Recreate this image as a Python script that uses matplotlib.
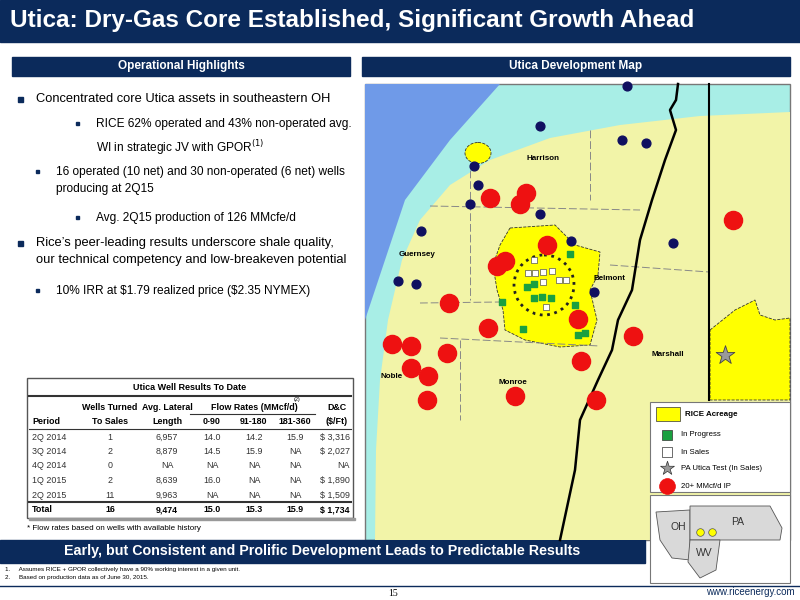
import matplotlib.pyplot as plt
from matplotlib.patches import Rectangle, Polygon, Ellipse, Circle
import numpy as np

NAVY = '#0b2a5b'
FONT = 'Liberation Sans'

# table data
periods = ['2Q 2014', '3Q 2014', '4Q 2014', '1Q 2015', '2Q 2015']
wells = ['1', '2', '0', '2', '11']
lateral = ['6,957', '8,879', 'NA', '8,639', '9,963']
flow_90 = ['14.0', '14.5', 'NA', '16.0', 'NA']
flow_180 = ['14.2', '15.9', 'NA', 'NA', 'NA']
flow_360 = ['15.9', 'NA', 'NA', 'NA', 'NA']
dc_cost = ['\\$ 3,316', '\\$ 2,027', 'NA', '\\$ 1,890', '\\$ 1,509']
totals = ['Total', '16', '9,474', '15.0', '15.3', '15.9', '\\$ 1,734']

# map wells (map pixel coords)
red_x = [490, 526, 520, 547, 497, 505, 449, 488, 578, 633, 581, 392, 411, 447, 411, 733, 428, 427, 515, 596]
red_y = [198, 193, 204, 245, 266, 261, 303, 328, 319, 336, 361, 344, 346, 353, 368, 220, 376, 400, 396, 400]
navy_x = [540, 622, 646, 474, 478, 470, 540, 421, 571, 673, 398, 416, 594, 627]
navy_y = [126, 140, 143, 166, 185, 204, 214, 231, 241, 243, 281, 284, 292, 86]
green_x = [570, 527, 534, 534, 542, 551, 502, 575, 523, 578, 585]
green_y = [254, 287, 284, 298, 297, 298, 302, 305, 329, 335, 333]
white_x = [534, 528, 535, 543, 552, 543, 559, 566, 546]
white_y = [260, 273, 273, 272, 271, 282, 280, 280, 307]
counties = [('Harrison', 543, 158), ('Guernsey', 417, 255), ('Belmont', 610, 278),
            ('Marshall', 668, 354), ('Noble', 392, 377), ('Monroe', 513, 382)]

fig = plt.figure(figsize=(8, 6), dpi=100)
ax = fig.add_axes([0, 0, 1, 1])
ax.set_xlim(0, 800)
ax.set_ylim(600, 0)
ax.axis('off')

# header
ax.add_patch(Rectangle((0, 0), 800, 42, color=NAVY))
ax.text(10, 21, 'Utica: Dry-Gas Core Established, Significant Growth Ahead',
        color='white', fontsize=17.5, fontweight='bold', va='center', family=FONT)
ax.add_patch(Rectangle((12, 57), 338, 19, color=NAVY))
ax.text(181, 66.5, 'Operational Highlights', color='white', fontsize=8.5, fontweight='bold',
        ha='center', va='center', family=FONT)
ax.add_patch(Rectangle((362, 57), 428, 19, color=NAVY))
ax.text(576, 66.5, 'Utica Development Map', color='white', fontsize=8.5, fontweight='bold',
        ha='center', va='center', family=FONT)

# bullets
ftxt = dict(family=FONT, color='black', va='top')
bullets = [
    (18, 36, 93, 'Concentrated core Utica assets in southeastern OH', 9.3),
    (76, 96, 118, 'RICE 62% operated and 43% non-operated avg.\nWI in strategic JV with GPOR$^{(1)}$', 8.6),
    (36, 56, 166, '16 operated (10 net) and 30 non-operated (6 net) wells\nproducing at 2Q15', 8.6),
    (76, 96, 212, 'Avg. 2Q15 production of 126 MMcfe/d', 8.6),
    (18, 36, 237, 'Rice\u2019s peer-leading results underscore shale quality,\nour technical competency and low-breakeven potential', 9.3),
    (36, 56, 285, '10% IRR at \\$1.79 realized price (\\$2.35 NYMEX)', 8.6),
]
for bx, tx, ty, t, fs in bullets:
    big = fs > 9
    ax.add_patch(Rectangle((bx, ty + 4), 5 if big else 3, 5 if big else 3, color=NAVY))
    ax.text(tx, ty, t, fontsize=fs, linespacing=1.6, **ftxt)

# table
ax.add_patch(Rectangle((27, 378), 326, 140, facecolor='white', edgecolor='#555555', lw=1))
ax.add_patch(Rectangle((29, 518), 326, 2, color='#999999'))
ax.text(190, 387, 'Utica Well Results To Date', fontsize=6.5, fontweight='bold', ha='center', va='center',
        family=FONT)
ax.plot([29, 351], [396, 396], color='#333333', lw=1.5)
cols = [(32, 'left'), (110, 'center'), (167, 'center'), (212, 'center'), (254, 'center'), (295, 'center'), (350, 'right')]
hdr1 = ['', 'Wells Turned', 'Avg. Lateral', '', 'Flow Rates (MMcf/d)', '', 'D&C']
hdr2 = ['Period', 'To Sales', 'Length', '0-90', '91-180', '181-360', '(\\$/Ft)']
tk = dict(family=FONT, fontsize=6.4, va='center')
for (cx, ha), h1, h2 in zip(cols, hdr1, hdr2):
    x = cx if ha != 'right' else 337
    h = ha if ha != 'right' else 'center'
    if h1:
        ax.text(x, 407, h1, ha=h, fontweight='bold', **tk)
    ax.text(x, 421, h2, ha=h, fontweight='bold', **tk)
ax.text(294, 400, '(2)', fontsize=4, family=FONT, va='center')
ax.plot([190, 315], [414, 414], color='#333333', lw=0.8)
ax.plot([29, 351], [429, 429], color='#333333', lw=0.8)
rows = list(zip(periods, wells, lateral, flow_90, flow_180, flow_360, dc_cost))
for i, r in enumerate(rows):
    y = 437 + i * 14.5
    for (cx, ha), v in zip(cols, r):
        ax.text(cx, y, v, ha=ha, color='#333333', **tk)
ax.plot([29, 351], [502, 502], color='#333333', lw=1.5)
for (cx, ha), v in zip(cols, totals):
    ax.text(cx, 510, v, ha=ha, fontweight='bold', **tk)
ax.text(27, 528, '* Flow rates based on wells with available history', fontsize=5.8,
        family=FONT, va='center')

# map background
mx0, mx1, my0, my1 = 365, 790, 84, 540
ax.add_patch(Rectangle((mx0, my0), mx1 - mx0, my1 - my0, facecolor='#a8eee6', edgecolor='#777777', lw=1, zorder=1))
blue = Polygon([(mx0, my0), (500, my0), (450, 140), (405, 200), (375, 290), (mx0, 320)],
               facecolor='#6f9ae8', edgecolor='none', zorder=2)
ax.add_patch(blue)
pale = Polygon([(mx1, 112), (700, 116), (620, 125), (550, 138), (490, 160), (450, 185),
                (420, 220), (402, 260), (388, 320), (380, 380), (376, 450), (375, my1), (mx1, my1)],
               facecolor='#f2f4a8', edgecolor='none', zorder=2)
ax.add_patch(pale)
core = Polygon([(510, 228), (555, 225), (575, 245), (600, 252), (598, 275), (590, 290), (597, 320),
                (590, 345), (560, 347), (525, 340), (505, 330), (503, 310), (497, 290), (493, 265), (500, 245)],
               facecolor='#ffff00', edgecolor='#333333', ls='--', lw=0.6, zorder=3)
ax.add_patch(core)
ax.add_patch(Ellipse((478, 153), 26, 21, facecolor='#ffff00', edgecolor='#333333', ls='--', lw=0.6, zorder=3))
ax.add_patch(Polygon([(710, 330), (735, 310), (755, 300), (760, 315), (775, 320), (790, 318), (790, 400), (710, 400)],
                     facecolor='#ffff00', edgecolor='#333333', ls='--', lw=0.6, zorder=3))
# river & state line
ry = np.array([84, 100, 110, 130, 160, 200, 240, 290, 320, 350, 380, 420, 470, 540])
rx = np.array([678, 676, 670, 676, 665, 652, 640, 632, 618, 612, 598, 580, 575, 560])
ax.plot(rx, ry, color='black', lw=1.8, zorder=4)
ax.plot([709, 709], [my0, 400], color='black', lw=1.5, zorder=4)
# county lines
for seg in [([430, 640], [206, 210]), ([420, 500], [303, 302]), ([440, 600], [338, 346]), ([470, 470], [170, 300]),
            ([590, 590], [130, 200]), ([610, 709], [265, 272]), ([460, 460], [340, 420])]:
    ax.plot(*seg, color='#888888', lw=0.7, ls=(0, (8, 3)), zorder=3)

ax.add_patch(Circle((544, 285), 30, fill=False, ls=':', lw=2, edgecolor='#222222', zorder=5))
ax.scatter(red_x, red_y, s=170, color='#ee1111', zorder=6)
ax.scatter(navy_x, navy_y, s=40, color='#101060', zorder=6)
ax.scatter(green_x, green_y, s=22, marker='s', color='#1aa040', zorder=7)
ax.scatter(white_x, white_y, s=22, marker='s', facecolor='white', edgecolor='#555555', lw=0.5, zorder=7)
ax.scatter([725], [355], s=200, marker='*', color='#999999', edgecolor='#444444', lw=0.6, zorder=7)
for name, x, y in counties:
    ax.text(x, y, name, fontsize=5.8, fontweight='bold', ha='center', va='center',
            family=FONT, zorder=8)

# legend
ax.add_patch(Rectangle((650, 402), 140, 90, facecolor='white', edgecolor='#777777', lw=0.8, zorder=8))
ax.add_patch(Rectangle((656, 407), 24, 14, facecolor='#ffff00', edgecolor='#333333', lw=0.5, zorder=9))
ax.text(685, 414, 'RICE Acreage', fontsize=5.8, fontweight='bold', va='center', family=FONT, zorder=9)
leg = [('s', '#1aa040', 'In Progress', 435), ('s', 'white', 'In Sales', 452),
       ('*', '#999999', 'PA Utica Test (In Sales)', 468), ('o', '#ee1111', '20+ MMcf/d IP', 486)]
for m, c, t, y in leg:
    ax.scatter([667], [y], s=45 if m == 's' else (110 if m == '*' else 130), marker=m, facecolor=c,
               edgecolor='#333333' if m != 'o' else c, lw=0.5, zorder=9)
    ax.text(681, y, t, fontsize=5.6, va='center', family=FONT, zorder=9)

# inset
ax.add_patch(Rectangle((650, 495), 140, 88, facecolor='white', edgecolor='#777777', lw=0.8, zorder=8))
ax.add_patch(Polygon([(656, 512), (690, 510), (690, 560), (672, 558), (660, 540)],
                     facecolor='#d9d9d9', edgecolor='#555555', lw=0.6, zorder=9))
ax.add_patch(Polygon([(690, 506), (770, 506), (782, 528), (780, 540), (690, 540)],
                     facecolor='#d9d9d9', edgecolor='#555555', lw=0.6, zorder=9))
ax.add_patch(Polygon([(690, 540), (720, 540), (716, 570), (700, 578), (688, 562)],
                     facecolor='#d9d9d9', edgecolor='#555555', lw=0.6, zorder=9))
ax.scatter([700, 712], [532, 532], s=30, color='#ffff00', edgecolor='#555555', lw=0.5, zorder=10)
for t, x, y in [('OH', 678, 527), ('PA', 738, 522), ('WV', 704, 553)]:
    ax.text(x, y, t, fontsize=7.5, ha='center', va='center', color='#333333', family=FONT, zorder=10)

# bottom banner
ax.add_patch(Rectangle((0, 540), 645, 23, color=NAVY))
ax.text(322, 551.5, 'Early, but Consistent and Prolific Development Leads to Predictable Results', color='white',
        fontsize=10.3, fontweight='bold', ha='center', va='center', family=FONT)
ax.text(5, 569, '1.     Assumes RICE + GPOR collectively have a 90% working interest in a given unit.', fontsize=4.5,
        va='center', family=FONT)
ax.text(5, 578, '2.     Based on production data as of June 30, 2015.', fontsize=4.5, va='center', family=FONT)
ax.plot([0, 800], [586, 586], color=NAVY, lw=1)
ax.text(393, 594, '15', fontsize=7, ha='center', va='center', family='Liberation Serif')
ax.text(795, 592, 'www.riceenergy.com', fontsize=7, ha='right', va='center', color=NAVY, family=FONT)

fig.savefig('out.png', dpi=100)
